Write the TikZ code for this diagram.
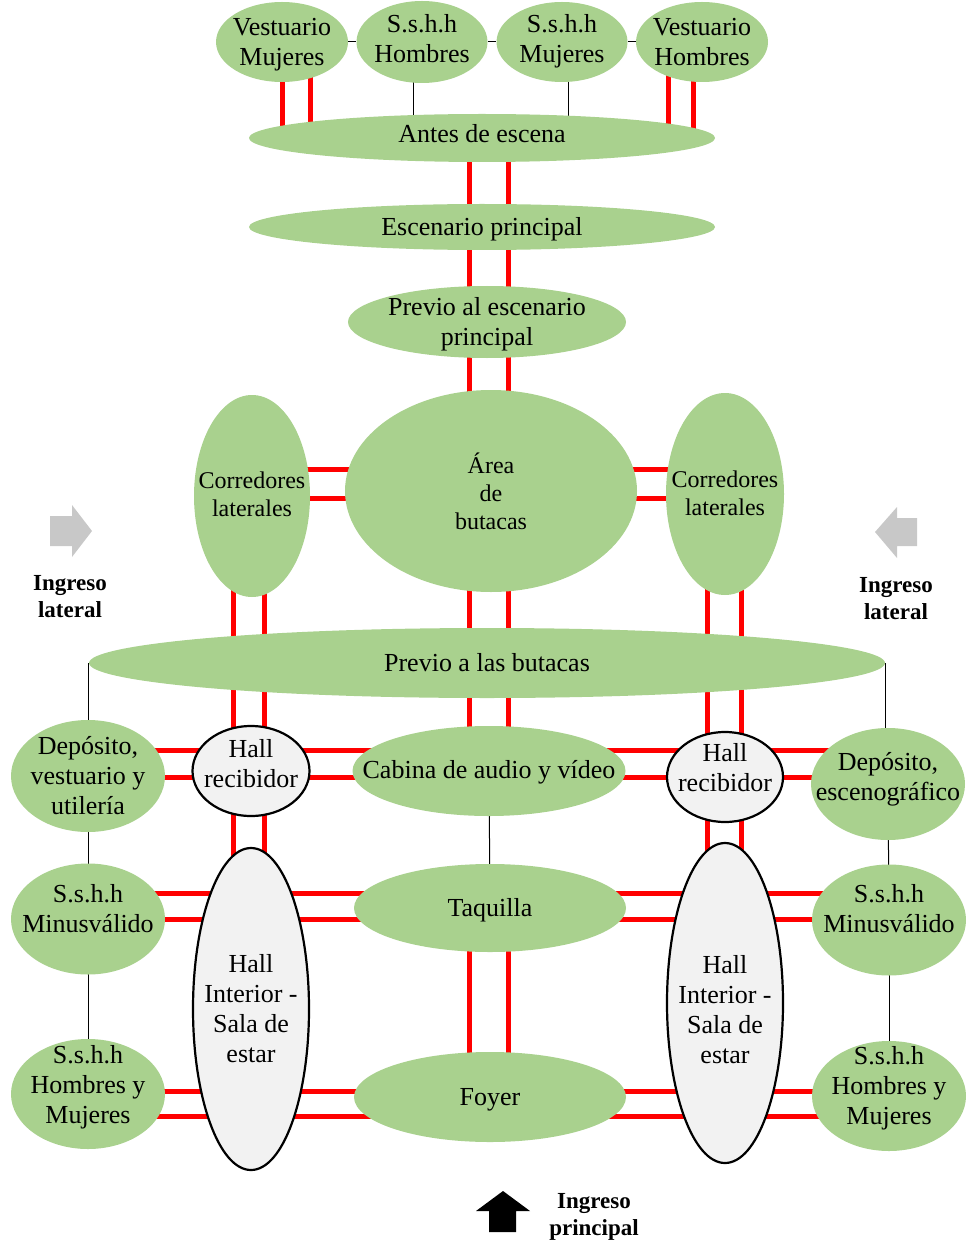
\documentclass[tikz,border=0pt]{standalone}
\usepackage{fontspec}
\setmainfont{Liberation Serif}
\usetikzlibrary{shapes.geometric,backgrounds}
\definecolor{gfill}{HTML}{A9D18E}
\definecolor{hfill}{HTML}{F2F2F2}
\definecolor{afill}{HTML}{C8C8C8}
\definecolor{rline}{HTML}{FF0000}
% zero-size centred text block, optionally raised
\newcommand\ztext[2][0pt]{\makebox[0pt]{\raisebox{\dimexpr #1-0.25em-2pt\relax}[0pt][0pt]{\begin{tabular}{@{}c@{}}#2\end{tabular}}}}
\begin{document}
\begin{tikzpicture}[x=1pt,y=-1pt,
  el/.style={ellipse, fill=gfill, inner sep=0pt, font=\fontsize{26}{30}\selectfont},
  elsm/.style={el, font=\fontsize{24}{28}\selectfont},
  hall/.style={el, fill=hfill, draw=black, line width=2.2pt},
  sz/.style 2 args={minimum width=#1pt, minimum height=#2pt},
  rl/.style={draw=rline, line width=5pt},
  tl/.style={draw=black, line width=1pt},
  ingreso/.style={font=\bfseries\fontsize{23}{27}\selectfont, align=center, inner sep=0pt},
  garrow/.style={fill=afill, draw=none},
  barrow/.style={fill=black, draw=none}]
\useasboundingbox (0,0) rectangle (971,1246);
% top row
\node[el, sz={132}{80}] (vm) at (282,42) {\ztext{Vestuario\\Mujeres}};
\node[el, sz={131}{82}] (sh) at (422,42) {\ztext[3pt]{S.s.h.h\\Hombres}};
\node[el, sz={131}{80}] (sm) at (562,42) {\ztext[3pt]{S.s.h.h\\Mujeres}};
\node[el, sz={132}{80}] (vh) at (702,42) {\ztext{Vestuario\\Hombres}};
\node[el, sz={466}{48}] (ant) at (482,138) {\ztext[4pt]{Antes de escena}};
\node[el, sz={466}{46}] (esc) at (482,227) {\ztext{Escenario principal}};
\node[el, sz={278}{72}] (pes) at (487,322) {\ztext{Previo al escenario\\principal}};
\node[elsm, sz={292}{202}] (area) at (491,491) {\ztext[-3pt]{Área\\de\\butacas}};
\node[elsm, sz={116}{202}] (corrL) at (252,496) {\ztext[1pt]{Corredores\\laterales}};
\node[elsm, sz={118}{202}] (corrR) at (725,494) {\ztext{Corredores\\laterales}};
\node[el, sz={796}{70}] (pb) at (487,663) {\ztext{Previo a las butacas}};
% lower part
\node[el, sz={154}{112}] (dep) at (88,776) {\ztext{Depósito,\\vestuario y\\utilería}};
\node[hall, sz={117}{90}] (hallRL) at (251,771) {\ztext[7pt]{Hall\\recibidor}};
\node[el, sz={273}{90}] (cab) at (489,771) {\ztext[1pt]{Cabina de audio y vídeo}};
\node[hall, sz={116}{90}] (hallRR) at (725,777) {\ztext[9pt]{Hall\\recibidor}};
\node[el, sz={154}{112}] (depE) at (888,784) {\ztext[7pt]{Depósito,\\escenográfico}};
\node[el, sz={154}{111}] (ssmL) at (88,919) {\ztext[10pt]{S.s.h.h\\Minusválido}};
\node[hall, sz={116}{322}] (hallIL) at (251,1009) {\ztext{Hall\\Interior -\\Sala de\\estar}};
\node[el, sz={272}{88}] (taq) at (490,908) {\ztext{Taquilla}};
\node[hall, sz={116}{320}] (hallIR) at (725,1003) {\ztext[-7pt]{Hall\\Interior -\\Sala de\\estar}};
\node[el, sz={154}{111}] (ssmR) at (889,920) {\ztext[11pt]{S.s.h.h\\Minusválido}};
\node[el, sz={154}{110}] (shmL) at (88,1094) {\ztext[9pt]{S.s.h.h\\Hombres y\\Mujeres}};
\node[el, sz={272}{90}] (foy) at (490,1097) {\ztext{Foyer}};
\node[el, sz={154}{110}] (shmR) at (889,1096) {\ztext[10pt]{S.s.h.h\\Hombres y\\Mujeres}};
% entrance labels
\node[ingreso] (ingL) at (70,597) {Ingreso\\lateral};
\node[ingreso] (ingR) at (896,599) {Ingreso\\lateral};
\node[ingreso] (ingP) at (594,1217) {Ingreso\\principal};
% entrance arrows
\fill[garrow] (50,516) -- (72,516) -- (72,505) -- (92,531) -- (72,557) -- (72,546) -- (50,546) -- cycle;
\fill[garrow] (917,518) -- (897,518) -- (897,507) -- (875,532) -- (897,558) -- (897,546) -- (917,546) -- cycle;
\fill[barrow] (503,1191) -- (530,1211) -- (516,1211) -- (516,1232) -- (489,1232) -- (489,1211) -- (476,1211) -- cycle;
% column / row helper coordinates
\coordinate (xVMa) at (282,0); \coordinate (xVMb) at (310,0);
\coordinate (xVHa) at (668,0); \coordinate (xVHb) at (693,0);
\coordinate (xSH) at (413,0); \coordinate (xSM) at (568,0);
\coordinate (xCa) at (469,0); \coordinate (xCb) at (508,0);
\coordinate (xLa) at (233,0); \coordinate (xLb) at (264,0);
\coordinate (xRa) at (707,0); \coordinate (xRb) at (741,0);
\coordinate (yAa) at (0,469); \coordinate (yAb) at (0,498);
\coordinate (y1a) at (0,750); \coordinate (y1b) at (0,777);
\coordinate (y2a) at (0,893); \coordinate (y2b) at (0,919);
\coordinate (y3a) at (0,1091); \coordinate (y3b) at (0,1116);
\begin{scope}[on background layer]
% thin connectors
\draw[tl] (vm.east) -- (sh.west);
\draw[tl] (sh.east) -- (sm.west);
\draw[tl] (sm.east) -- (vh.west);
\draw[tl] (xSH |- sh.center) -- (xSH |- ant.center);
\draw[tl] (xSM |- sm.center) -- (xSM |- ant.center);
\draw[tl] (pb.west) -- (pb.west |- dep.center);
\draw[tl] (pb.east) -- (pb.east |- depE.center);
\draw[tl] (dep.center) -- (ssmL.center);
\draw[tl] (ssmL.center) -- (shmL.center);
\draw[tl] (depE.center) -- (ssmR.center);
\draw[tl] (ssmR.center) -- (shmR.center);
\draw[tl] (cab.center) -- (taq.center);
% red vertical pairs
\foreach \c in {xVMa,xVMb} \draw[rl] (\c |- vm.center) -- (\c |- ant.center);
\foreach \c in {xVHa,xVHb} \draw[rl] (\c |- vh.center) -- (\c |- ant.center);
\foreach \c in {xCa,xCb} {
  \draw[rl] (\c |- ant.center) -- (\c |- esc.center);
  \draw[rl] (\c |- esc.center) -- (\c |- pes.center);
  \draw[rl] (\c |- pes.center) -- (\c |- area.center);
  \draw[rl] (\c |- area.center) -- (\c |- pb.center);
  \draw[rl] (\c |- pb.center) -- (\c |- cab.center);
  \draw[rl] (\c |- taq.center) -- (\c |- foy.center);
}
\foreach \c in {xLa,xLb} {
  \draw[rl] (\c |- corrL.center) -- (\c |- pb.center);
  \draw[rl] (\c |- pb.center) -- (\c |- hallRL.center);
  \draw[rl] (\c |- hallRL.center) -- (\c |- hallIL.center);
}
\foreach \c in {xRa,xRb} {
  \draw[rl] (\c |- corrR.center) -- (\c |- pb.center);
  \draw[rl] (\c |- pb.center) -- (\c |- hallRR.center);
  \draw[rl] (\c |- hallRR.center) -- (\c |- hallIR.center);
}
% red horizontal pairs
\foreach \r in {yAa,yAb} {
  \draw[rl] (corrL.center |- \r) -- (area.center |- \r);
  \draw[rl] (area.center |- \r) -- (corrR.center |- \r);
}
\foreach \r in {y1a,y1b} {
  \draw[rl] (dep.center |- \r) -- (hallRL.center |- \r);
  \draw[rl] (hallRL.center |- \r) -- (cab.center |- \r);
  \draw[rl] (cab.center |- \r) -- (hallRR.center |- \r);
  \draw[rl] (hallRR.center |- \r) -- (depE.center |- \r);
}
\foreach \r in {y2a,y2b} {
  \draw[rl] (ssmL.center |- \r) -- (hallIL.center |- \r);
  \draw[rl] (hallIL.center |- \r) -- (taq.center |- \r);
  \draw[rl] (taq.center |- \r) -- (hallIR.center |- \r);
  \draw[rl] (hallIR.center |- \r) -- (ssmR.center |- \r);
}
\foreach \r in {y3a,y3b} {
  \draw[rl] (shmL.center |- \r) -- (hallIL.center |- \r);
  \draw[rl] (hallIL.center |- \r) -- (foy.center |- \r);
  \draw[rl] (foy.center |- \r) -- (hallIR.center |- \r);
  \draw[rl] (hallIR.center |- \r) -- (shmR.center |- \r);
}
\end{scope}
\end{tikzpicture}
\end{document}
